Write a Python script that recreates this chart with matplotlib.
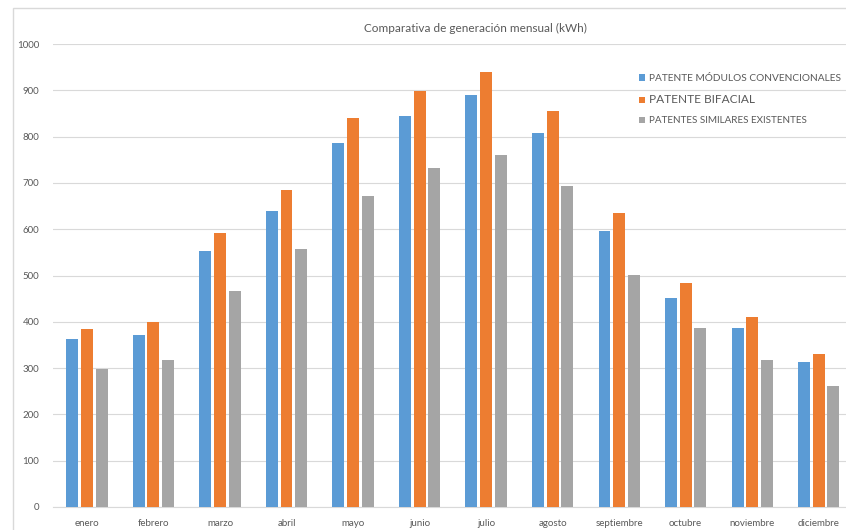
import matplotlib.pyplot as plt
from matplotlib.patches import Rectangle
import numpy as np

# monthly generation values (kWh)
meses = ['enero', 'febrero', 'marzo', 'abril', 'mayo', 'junio', 'julio',
         'agosto', 'septiembre', 'octubre', 'noviembre', 'diciembre']
convencional = [363, 372, 553, 640, 786, 845, 889, 808, 596, 452, 387, 313]
bifacial = [384, 400, 591, 684, 841, 899, 940, 856, 634, 484, 410, 331]
existentes = [298, 318, 467, 558, 672, 733, 760, 693, 502, 386, 317, 262]

series_labels = ['PATENTE MÓDULOS CONVENCIONALES', 'PATENTE BIFACIAL',
                 'PATENTES SIMILARES EXISTENTES']
colors = ['#5B9BD5', '#ED7D31', '#A5A5A5']
text_color = '#595959'

plt.rcParams['font.family'] = ['Lato', 'DejaVu Sans']

fig = plt.figure(figsize=(8.46, 5.30), dpi=100)
ax = fig.add_axes([53 / 846, 23 / 530, 1 - 53 / 846, 463 / 530])

x = np.arange(len(meses))
width = 0.18
offset = 0.22
bars = []
for i, (vals, col) in enumerate(zip([convencional, bifacial, existentes], colors)):
    b = ax.bar(x + (i - 1) * offset, vals, width, color=col, zorder=3)
    bars.append(b)

ax.set_xlim(-0.51, 11.41)
ax.set_ylim(0, 1000)
ax.set_yticks(range(0, 1001, 100))
ax.set_xticks(x)
ax.set_xticklabels(meses)
ax.grid(axis='y', color='#D9D9D9', linewidth=0.8, zorder=0)
ax.tick_params(axis='both', length=0, labelsize=7, colors=text_color)
ax.tick_params(axis='y', pad=10)
ax.tick_params(axis='x', pad=9)
for s in ['top', 'right', 'left']:
    ax.spines[s].set_visible(False)
ax.spines['bottom'].set_color('#D9D9D9')

fig.text(475 / 846, 0.947, 'Comparativa de generación mensual (kWh)',
         ha='center', va='center', fontsize=8.5, color=text_color)

leg = ax.legend(bars, series_labels, loc='upper left',
                bbox_to_anchor=(634 / 846, 1 - 69 / 530),
                bbox_transform=fig.transFigure, frameon=False,
                handlelength=0.6, handleheight=0.6, handletextpad=0.4,
                labelspacing=1.15, borderpad=0, fontsize=7)
for t, fs in zip(leg.get_texts(), [7.3, 8.6, 7.1]):
    t.set_fontsize(fs)
    t.set_color(text_color)

# light chart border
fig.add_artist(Rectangle((13 / 846, -0.1), 1.1, 1 - 8 / 530 + 0.1,
                         transform=fig.transFigure, fill=False,
                         edgecolor='#D9D9D9', linewidth=1))

fig.savefig('out.png', dpi=100)
